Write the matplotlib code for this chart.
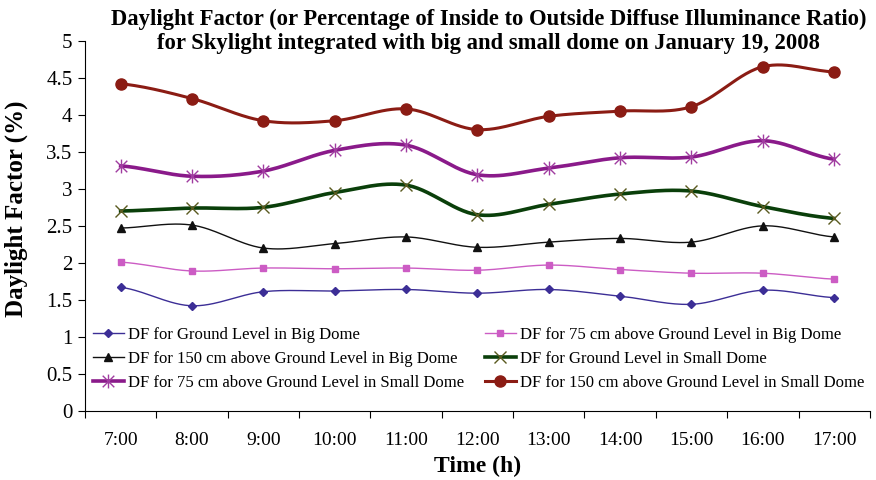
import numpy as np
from matplotlib import pyplot as plt
from matplotlib.path import Path

hours = ['7:00', '8:00', '9:00', '10:00', '11:00', '12:00', '13:00', '14:00', '15:00', '16:00', '17:00']

ground_big = [1.67, 1.42, 1.61, 1.62, 1.64, 1.59, 1.64, 1.55, 1.44, 1.63, 1.53]
cm75_big = [2.01, 1.89, 1.93, 1.92, 1.93, 1.90, 1.97, 1.91, 1.86, 1.86, 1.78]
cm150_big = [2.47, 2.51, 2.20, 2.26, 2.35, 2.21, 2.28, 2.33, 2.28, 2.50, 2.35]
ground_small = [2.70, 2.74, 2.75, 2.95, 3.05, 2.65, 2.79, 2.93, 2.97, 2.76, 2.60]
cm75_small = [3.31, 3.17, 3.24, 3.52, 3.59, 3.19, 3.28, 3.42, 3.43, 3.65, 3.40]
cm150_small = [4.42, 4.22, 3.92, 3.92, 4.08, 3.80, 3.98, 4.05, 4.11, 4.65, 4.58]

plt.rcParams['font.family'] = ['Liberation Serif', 'DejaVu Serif']


def smooth(y, n=30):
    # catmull-rom style smoothing, like excel's "smoothed line"
    y = np.asarray(y, dtype=float)
    x = np.arange(len(y), dtype=float)
    m = np.zeros_like(y)
    m[1:-1] = (y[2:] - y[:-2]) / 2
    m[0] = (y[1] - y[0]) / 2
    m[-1] = (y[-1] - y[-2]) / 2
    xs, ys = [], []
    for i in range(len(y) - 1):
        t = np.linspace(0, 1, n, endpoint=False)
        h00 = 2 * t**3 - 3 * t**2 + 1
        h10 = t**3 - 2 * t**2 + t
        h01 = -2 * t**3 + 3 * t**2
        h11 = t**3 - t**2
        xs.extend(x[i] + t)
        ys.extend(h00 * y[i] + h10 * m[i] + h01 * y[i + 1] + h11 * m[i + 1])
    xs.append(x[-1])
    ys.append(y[-1])
    return np.array(xs), np.array(ys)


# excel-like star marker: an x with a vertical bar
star = Path([(-1, -1), (1, 1), (-1, 1), (1, -1), (0, -1.2), (0, 1.2)],
            [Path.MOVETO, Path.LINETO, Path.MOVETO, Path.LINETO, Path.MOVETO, Path.LINETO])

series = [
    (ground_big, 'DF for Ground Level in Big Dome', '#3c2e96', 1.0, 'D', 4, '#3c2e96'),
    (cm150_big, 'DF for 150 cm above Ground Level in Big Dome', '#111111', 1.0, '^', 6, '#111111'),
    (cm75_small, 'DF for 75 cm above Ground Level in Small Dome', '#8a1a8a', 2.6, star, 10, '#a03ca0'),
    (cm75_big, 'DF for 75 cm above Ground Level in Big Dome', '#cc5cc4', 1.0, 's', 5, '#cc5cc4'),
    (ground_small, 'DF for Ground Level in Small Dome', '#0a3f0a', 2.6, 'x', 8, '#5a5a20'),
    (cm150_small, 'DF for 150 cm above Ground Level in Small Dome', '#8b1c14', 2.2, 'o', 8, '#8b1c14'),
]

fig = plt.figure(dpi=100, figsize=(8.76, 4.8))
ax = fig.add_axes([0.097, 0.144, 0.896, 0.771])
x = np.arange(len(hours))
handles = []
for vals, label, color, lw, mk, ms, mc in series:
    sx, sy = smooth(vals)
    ax.plot(sx, sy, color=color, lw=lw, zorder=2)
    ax.plot(x, vals, ls='none', marker=mk, ms=ms, color=mc, mec=mc, mew=1.0, zorder=3)
    h, = ax.plot([], [], color=color, lw=lw, marker=mk, ms=ms, mfc=mc, mec=mc, mew=1.0)
    h.set_label(label)
    handles.append(h)

ax.set_xlim(-0.5, len(hours) - 0.5)
ax.set_ylim(0, 5)
ax.set_yticks(np.arange(0, 5.01, 0.5))
ax.set_yticklabels(['0', '0.5', '1', '1.5', '2', '2.5', '3', '3.5', '4', '4.5', '5'])
ax.set_xticks(np.arange(-0.5, len(hours), 1.0))
ax.set_xticklabels([])
ax.set_xticks(x, minor=True)
ax.set_xticklabels(hours, minor=True)
ax.tick_params(axis='x', which='minor', length=0, pad=15, labelsize=14)
ax.tick_params(axis='x', which='major', length=5, direction='out')
ax.tick_params(axis='y', length=5, direction='out', labelsize=15, pad=4)
for s in ['top', 'right']:
    ax.spines[s].set_visible(False)

ax.legend(handles=handles, ncol=2, loc='upper left', bbox_to_anchor=(0.010, 0.226),
          frameon=False, fontsize=12, handlelength=1.86, handletextpad=0.25,
          columnspacing=1.25, labelspacing=0.47, borderaxespad=0, borderpad=0)

fig.text(0.558, 0.934,
         'Daylight Factor (or Percentage of Inside to Outside Diffuse Illuminance Ratio)\n'
         'for Skylight integrated with big and small dome on January 19, 2008',
         fontsize=16.3, fontweight='bold', ha='center', va='center', linespacing=1.2)
ax.set_xlabel('Time (h)', fontsize=17, fontweight='bold')
ax.xaxis.set_label_coords(0.5, -0.122)
ax.set_ylabel('Daylight Factor (%)', fontsize=18, fontweight='bold')
ax.yaxis.set_label_coords(-0.072, 0.546)

plt.savefig('out.png')
